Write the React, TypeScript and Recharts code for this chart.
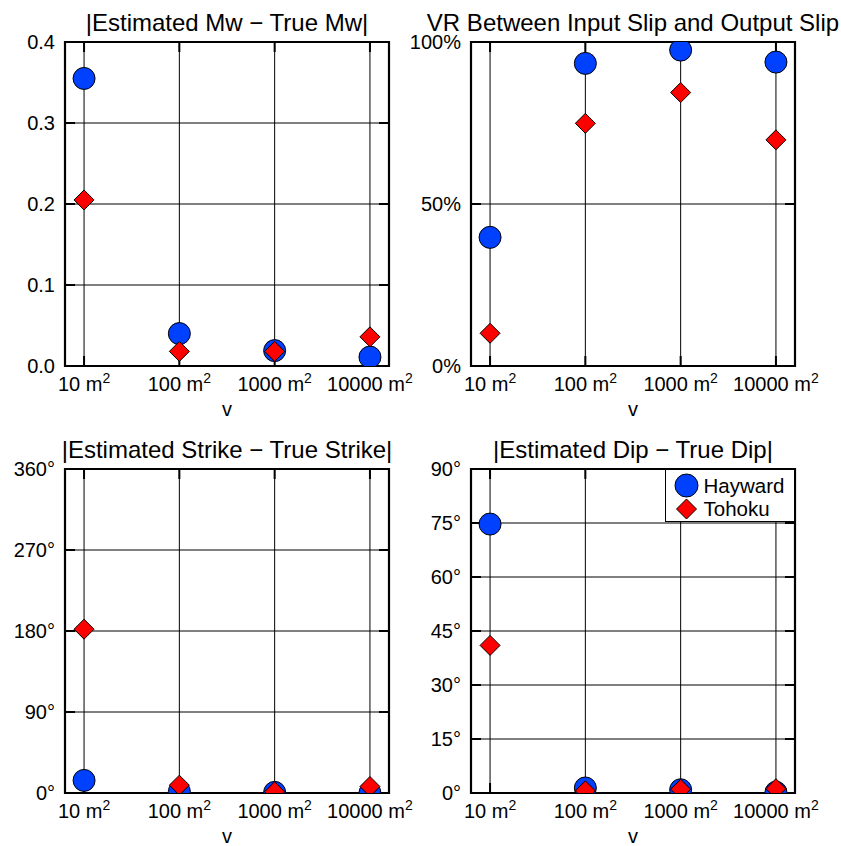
import React from 'react';
import { ScatterChart, Scatter, XAxis, YAxis, CartesianGrid, ReferenceArea, ReferenceLine, Customized } from 'recharts';

const categories = ['10 m²', '100 m²', '1000 m²', '10000 m²'];

const mwHayward = [0.355, 0.04, 0.019, 0.011];
const mwTohoku = [0.205, 0.018, 0.018, 0.036];

const vrHayward = [39.7, 93.4, 97.5, 93.8];
const vrTohoku = [10.1, 74.9, 84.4, 69.8];

const strikeHayward = [14, 1.5, 0.7, 0];
const strikeTohoku = [182, 8.7, 1.4, 7.2];

const dipHayward = [74.7, 1.4, 0.9, 0.2];
const dipTohoku = [41, 0.6, 1.05, 1.2];

const mwTicks = [0, 0.1, 0.2, 0.3, 0.4];
const vrTicks = [0, 50, 100];
const strikeTicks = [0, 90, 180, 270, 360];
const dipTicks = [0, 15, 30, 45, 60, 75, 90];

const seriesNames = ['Hayward', 'Tohoku'];

const BLUE = '#0040ff';
const RED = '#ff0000';
const FONT = '"Liberation Sans", Arial, Helvetica, sans-serif';

const X_MIN = 0.8;
const X_MAX = 4.2;
const X_TICKS = [1, 2, 3, 4];

const rows = (vals: number[]) => vals.map((v, i) => ({ x: i + 1, y: v }));

const CircleShape = (props: any) => {
  const { cx, cy } = props;
  if (cx == null || cy == null) return null;
  return <circle cx={cx} cy={cy} r={11} fill={BLUE} stroke="#000" strokeWidth={1} />;
};

const DiamondShape = (props: any) => {
  const { cx, cy } = props;
  if (cx == null || cy == null) return null;
  const h = 10;
  return (
    <polygon
      points={`${cx},${cy - h} ${cx + h},${cy} ${cx},${cy + h} ${cx - h},${cy}`}
      fill={RED}
      stroke="#000"
      strokeWidth={1}
    />
  );
};

const XTick = (props: any) => {
  const { x, y, payload } = props;
  const label: string = categories[payload.value - 1] ?? '';
  const parts = label.split('²');
  return (
    <text x={x} y={y + 14.2} textAnchor="middle" fontSize={20} fontFamily={FONT} fill="#000">
      <tspan>{parts[0]}</tspan>
      {label.includes('²') ? (
        <tspan dy={-8} fontSize={14}>2</tspan>
      ) : null}
    </text>
  );
};

type PanelProps = {
  left: number;
  top: number;
  title: string;
  hay: number[];
  toh: number[];
  ticks: number[];
  fmt: (v: number) => string;
};

const W = 436;
const H = 423;
const PLOT = 324;
const TICK_PX = 10;

const Panel = ({ left, top, title, hay, toh, ticks, fmt }: PanelProps) => {
  const yMin = ticks[0];
  const yMax = ticks[ticks.length - 1];
  const dx = ((X_MAX - X_MIN) * TICK_PX) / PLOT;
  const dy = ((yMax - yMin) * TICK_PX) / PLOT;
  const innerY = ticks.slice(1, -1);
  return (
    <div style={{ position: 'absolute', left, top, width: W, height: H }}>
      <ScatterChart
        width={W}
        height={H}
        margin={{ top: 42, right: W - 65 - PLOT, bottom: 0, left: 5 }}
        style={{ overflow: 'visible' }}
      >
        <CartesianGrid stroke="#000" strokeWidth={1} />
        <XAxis
          type="number"
          dataKey="x"
          domain={[X_MIN, X_MAX]}
          ticks={X_TICKS}
          allowDataOverflow
          tick={<XTick />}
          tickLine={false}
          axisLine={false}
          tickSize={0}
          tickMargin={11}
          height={57}
          interval={0}
          label={{ value: 'v', position: 'insideBottom', offset: 7, fill: '#000', fontSize: 20, fontFamily: FONT }}
        />
        <YAxis
          type="number"
          dataKey="y"
          domain={[yMin, yMax]}
          ticks={ticks}
          allowDataOverflow
          tickFormatter={fmt}
          tick={{ fill: '#000', fontSize: 20, fontFamily: FONT }}
          tickLine={false}
          axisLine={false}
          tickSize={0}
          tickMargin={10}
          width={60}
          interval={0}
        />
        <Scatter name={seriesNames[0]} data={rows(hay)} shape={CircleShape} isAnimationActive={false} />
        <Scatter name={seriesNames[1]} data={rows(toh)} shape={DiamondShape} isAnimationActive={false} />
        {innerY.map((t) => (
          <ReferenceLine key={`l${t}`} segment={[{ x: X_MIN, y: t }, { x: X_MIN + dx, y: t }]} stroke="#000" strokeWidth={2} ifOverflow="visible" />
        ))}
        {innerY.map((t) => (
          <ReferenceLine key={`r${t}`} segment={[{ x: X_MAX - dx, y: t }, { x: X_MAX, y: t }]} stroke="#000" strokeWidth={2} ifOverflow="visible" />
        ))}
        {X_TICKS.map((t) => (
          <ReferenceLine key={`b${t}`} segment={[{ x: t, y: yMin }, { x: t, y: yMin + dy }]} stroke="#000" strokeWidth={2} ifOverflow="visible" />
        ))}
        {X_TICKS.map((t) => (
          <ReferenceLine key={`t${t}`} segment={[{ x: t, y: yMax - dy }, { x: t, y: yMax }]} stroke="#000" strokeWidth={2} ifOverflow="visible" />
        ))}
        <ReferenceArea x1={X_MIN} x2={X_MAX} y1={yMin} y2={yMax} fill="none" stroke="#000" strokeWidth={2.2} ifOverflow="visible" />
        <Customized
          component={() => (
            <text x={65 + PLOT / 2} y={31} textAnchor="middle" fontSize={24} fontFamily={FONT} fill="#000">
              {title}
            </text>
          )}
        />
      </ScatterChart>
    </div>
  );
};

const LegendBox = () => (
  <div
    style={{
      position: 'absolute',
      left: 665,
      top: 469,
      width: 130,
      height: 53,
      boxSizing: 'border-box',
      border: '1.5px solid #000',
      background: '#fff',
    }}
  >
    <svg width={128} height={50} style={{ position: 'absolute', left: 0, top: 0 }}>
      <circle cx={20.5} cy={15.5} r={11.5} fill={BLUE} stroke="#000" strokeWidth={1} />
      <polygon points="20.5,29 30.5,39 20.5,49 10.5,39" fill={RED} stroke="#000" strokeWidth={1} />
      <text x={37.5} y={22.5} fontSize={20.5} fontFamily={FONT} fill="#000">{seriesNames[0]}</text>
      <text x={37.5} y={46} fontSize={20.5} fontFamily={FONT} fill="#000">{seriesNames[1]}</text>
    </svg>
  </div>
);

export default function App() {
  return (
    <div style={{ position: 'absolute', left: 0, top: 0, width: 841, height: 846, background: '#fff', fontFamily: FONT, overflow: 'hidden' }}>
      <Panel left={0} top={0} title="|Estimated Mw − True Mw|" hay={mwHayward} toh={mwTohoku} ticks={mwTicks} fmt={(v) => v.toFixed(1)} />
      <Panel left={406} top={0} title="VR Between Input Slip and Output Slip" hay={vrHayward} toh={vrTohoku} ticks={vrTicks} fmt={(v) => `${v}%`} />
      <Panel left={0} top={427} title="|Estimated Strike − True Strike|" hay={strikeHayward} toh={strikeTohoku} ticks={strikeTicks} fmt={(v) => `${v}°`} />
      <Panel left={406} top={427} title="|Estimated Dip − True Dip|" hay={dipHayward} toh={dipTohoku} ticks={dipTicks} fmt={(v) => `${v}°`} />
      <LegendBox />
    </div>
  );
}
